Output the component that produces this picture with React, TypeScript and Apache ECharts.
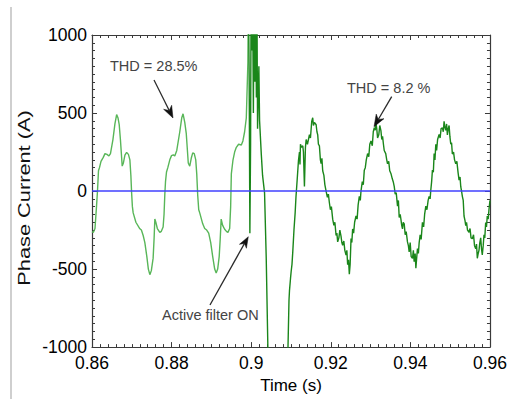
import React, { useEffect, useRef } from "react";
import * as echarts from "echarts";

// Phase current before the active filter is switched on (clean, distorted waveform)
const preFilterTime = [
  0.86, 0.86033, 0.86075, 0.86113, 0.86138, 0.86163, 0.86188, 0.86226, 0.86283, 0.86326,
  0.86376, 0.86426, 0.86464, 0.86526, 0.86576, 0.86619, 0.86652, 0.86684, 0.86714, 0.86759,
  0.86789, 0.86827, 0.8687, 0.86915, 0.86952, 0.86977, 0.86995, 0.87015, 0.87035, 0.87103,
  0.87203, 0.87241, 0.87286, 0.87328, 0.87378, 0.87416, 0.87454, 0.87491, 0.87536, 0.87561,
  0.87579, 0.87604, 0.87642, 0.87704, 0.87742, 0.87787, 0.8781, 0.8783, 0.87847, 0.87872,
  0.87905, 0.87955, 0.87998, 0.88043, 0.8808, 0.8813, 0.88206, 0.88256, 0.88288, 0.88331,
  0.88368, 0.88419, 0.88456, 0.88494, 0.88531, 0.88569, 0.88607, 0.88632, 0.88657, 0.88682,
  0.88707, 0.88782, 0.88832, 0.88882, 0.88932, 0.88983, 0.89033, 0.89083, 0.8912, 0.89158,
  0.89196, 0.89221, 0.89246, 0.89283, 0.89333, 0.89384, 0.89416, 0.89459, 0.89484, 0.89501,
  0.89541, 0.89584, 0.89627, 0.89684, 0.89752, 0.89792, 0.89835, 0.89877, 0.89917, 0.8993,
];
const preFilterCurrent = [
  -260, -265, -240, -100, 0, 130, 150, 190, 216, 240,
  235, 225, 240, 330, 430, 490, 470, 425, 330, 160,
  180, 230, 248, 235, 200, 100, -10, -100, -140, -200,
  -242, -250, -285, -330, -420, -500, -536, -510, -430, -300,
  -179, -200, -240, -265, -258, -230, -150, -20, 60, 122,
  150, 200, 227, 232, 225, 260, 380, 470, 495, 440,
  370, 180, 160, 210, 245, 240, 200, 110, -30, -120,
  -140, -210, -240, -250, -270, -330, -420, -500, -525, -500,
  -420, -310, -180, -220, -245, -260, -265, -240, -100, 110,
  196, 250, 280, 300, 295, 321, 380, 468, 823, 1300,
];

// Phase current after the active filter is switched on (transient + noisy sinusoid)
const postFilterTime = [
  0.8993, 0.8995, 0.89967, 0.89985, 0.89998, 0.90018, 0.90035, 0.90055, 0.90073, 0.90093,
  0.9011, 0.9013, 0.90143, 0.9016, 0.90193, 0.90211, 0.90253, 0.90286, 0.90336, 0.90378,
  0.90419, 0.90436, 0.90912, 0.90925, 0.9095, 0.90962, 0.90988, 0.91005, 0.91025, 0.91045,
  0.91075, 0.91105, 0.91125, 0.91155, 0.91188, 0.91213, 0.91226, 0.91238, 0.91263, 0.91296,
  0.91313, 0.91338, 0.91363, 0.91381, 0.91414, 0.91464, 0.91489, 0.91521, 0.91546, 0.91564,
  0.91589, 0.91632, 0.91652, 0.91672, 0.91689, 0.91714, 0.91739, 0.91757, 0.91777, 0.91797,
  0.91827, 0.91852, 0.91882, 0.91915, 0.9194, 0.91965, 0.9199, 0.92015, 0.92048, 0.92078,
  0.92103, 0.92133, 0.92153, 0.92173, 0.92203, 0.92228, 0.92258, 0.92278, 0.92298, 0.92328,
  0.92353, 0.92383, 0.92404, 0.92424, 0.92446, 0.92466, 0.92486, 0.92509, 0.92529, 0.92549,
  0.92574, 0.92599, 0.92634, 0.92662, 0.92687, 0.92717, 0.92742, 0.92759, 0.92792, 0.92817,
  0.92842, 0.92867, 0.92892, 0.92925, 0.92955, 0.9298, 0.9301, 0.93043, 0.93068, 0.93093,
  0.93118, 0.93135, 0.93155, 0.93176, 0.93206, 0.93231, 0.93261, 0.93281, 0.93301, 0.93323,
  0.93343, 0.93381, 0.93406, 0.93426, 0.93456, 0.93481, 0.93511, 0.93544, 0.93569, 0.93594,
  0.93619, 0.93644, 0.93677, 0.93699, 0.93719, 0.93744, 0.93762, 0.93782, 0.93802, 0.9382,
  0.93845, 0.9387, 0.93895, 0.93927, 0.9395, 0.9397, 0.93995, 0.9402, 0.94053, 0.94075,
  0.94095, 0.9412, 0.94138, 0.94158, 0.94178, 0.94201, 0.94221, 0.94246, 0.94271, 0.94303,
  0.94333, 0.94358, 0.94388, 0.94416, 0.94446, 0.94471, 0.94496, 0.94514, 0.94534, 0.94554,
  0.94577, 0.94597, 0.94617, 0.94639, 0.94659, 0.94684, 0.94722, 0.94747, 0.94772, 0.94805,
  0.94827, 0.94847, 0.94867, 0.9489, 0.9491, 0.9493, 0.94952, 0.94973, 0.94993, 0.95015,
  0.95035, 0.95055, 0.95085, 0.9511, 0.9514, 0.95168, 0.95198, 0.95223, 0.95248, 0.95266,
  0.95286, 0.95306, 0.95328, 0.95348, 0.95373, 0.95391, 0.95411, 0.95436, 0.95474, 0.95499,
  0.95524, 0.95557, 0.95587, 0.95612, 0.95642, 0.95662, 0.95682, 0.95704, 0.95724, 0.95745,
  0.95767, 0.95787, 0.95807, 0.9583, 0.9585, 0.9587, 0.95892, 0.95912, 0.95932, 0.95955,
  0.95975, 0.96,
];
const postFilterCurrent = [
  1300, 700, -270, 300, 1300, 900, 1300, 500, 1300, 700,
  1300, 600, 1300, 400, 800, 450, 240, 100, -12, -430,
  -1000, -1500, -1500, -1000, -700, -640, -560, -514, -470, -390,
  -250, -138, -40, 71, 196, 250, 170, 300, 280, 290,
  250, 30, 280, 330, 300, 362, 340, 446, 470, 420,
  440, 425, 380, 360, 300, 290, 200, 175, 210, 130,
  100, 40, 0, -40, -20, -75, -120, -100, -180, -220,
  -200, -285, -270, -326, -300, -250, -290, -330, -347, -320,
  -380, -410, -380, -472, -440, -533, -470, -305, -330, -243,
  -270, -200, -160, -180, -90, -34, -60, 0, 60, 40,
  134, 150, 200, 240, 220, 300, 321, 290, 380, 407,
  390, 436, 400, 340, 360, 420, 385, 330, 350, 300,
  260, 240, 200, 175, 190, 130, 113, 80, 60, 30,
  -20, -10, -97, -60, -170, -150, -180, -220, -243, -200,
  -210, -280, -260, -326, -350, -390, -330, -420, -431, -380,
  -452, -400, -494, -430, -368, -400, -330, -280, -310, -201,
  -230, -150, -97, -120, -60, -34, -50, 8, 60, 134,
  120, 240, 200, 300, 260, 330, 363, 340, 400, 405,
  380, 447, 410, 390, 430, 360, 400, 420, 350, 300,
  310, 237, 250, 200, 175, 190, 120, 70, 90, 28,
  0, -34, -60, -160, -190, -222, -200, -250, -264, -240,
  -300, -306, -280, -350, -369, -340, -431, -400, -380, -330,
  -300, -370, -410, -350, -280, -300, -201, -230, -160, -180,
  -118, -60,
];

// Zero reference line
const zeroLineTime = [0.86, 0.96];
const zeroLineCurrent = [0, 0];

// Annotation texts
const annotationTexts = ["THD = 28.5%", "THD = 8.2 %", "Active filter ON"];

const FONT = "'Liberation Sans', Arial, Helvetica, sans-serif";

function zip(xs: number[], ys: number[]) {
  return xs.map((x, i) => [x, ys[i]]);
}

function arrow(x1: number, y1: number, x2: number, y2: number, len = 12, half = 4.5) {
  const dx = x2 - x1;
  const dy = y2 - y1;
  const d = Math.sqrt(dx * dx + dy * dy);
  const ux = dx / d;
  const uy = dy / d;
  const nx = -uy;
  const ny = ux;
  const bx = x2 - ux * len;
  const by = y2 - uy * len;
  const notchX = x2 - ux * len * 0.7;
  const notchY = y2 - uy * len * 0.7;
  return [
    {
      type: "line",
      shape: { x1, y1, x2: notchX, y2: notchY },
      style: { stroke: "#2a2a2a", lineWidth: 1.3 },
      z: 20,
    },
    {
      type: "polygon",
      shape: {
        points: [
          [x2, y2],
          [bx + nx * half, by + ny * half],
          [notchX, notchY],
          [bx - nx * half, by - ny * half],
        ],
      },
      style: { fill: "#111", stroke: "#111", lineWidth: 0.5 },
      z: 20,
    },
  ];
}

export default function App() {
  const ref = useRef<HTMLDivElement>(null);

  useEffect(() => {
    if (!ref.current) return;
    const chart = echarts.init(ref.current, null, { renderer: "svg" });

    const axisLineStyle = { color: "#3a3a3a", width: 1.2 };
    const commonX = {
      type: "value",
      min: 0.86,
      max: 0.96,
      interval: 0.02,
      splitLine: { show: false },
      axisLine: { show: true, onZero: false, lineStyle: axisLineStyle },
      axisTick: { show: true, inside: true, length: 5, lineStyle: { color: "#3a3a3a" } },
      minorTick: { show: true, splitNumber: 10, length: 3, lineStyle: { color: "#3a3a3a" } },
    };
    const commonY = {
      type: "value",
      min: -1000,
      max: 1000,
      interval: 500,
      splitLine: { show: false },
      axisLine: { show: true, onZero: false, lineStyle: axisLineStyle },
      axisTick: { show: true, inside: true, length: 5, lineStyle: { color: "#3a3a3a" } },
      minorTick: { show: true, splitNumber: 10, length: 3, lineStyle: { color: "#3a3a3a" } },
    };

    const graphics: any[] = [
      // page frame line on the left
      {
        type: "line",
        shape: { x1: 11, y1: 7, x2: 11, y2: 399 },
        style: { stroke: "#cfcfcf", lineWidth: 2 },
      },
      // y-axis title (stretched like the source)
      {
        type: "text",
        x: 24,
        y: 198,
        rotation: Math.PI / 2,
        scaleX: 1.32,
        scaleY: 1,
        style: {
          text: "Phase Current (A)",
          font: `16.5px ${FONT}`,
          fill: "#111",
          align: "center",
          verticalAlign: "middle",
        },
      },
      {
        type: "text",
        x: 110,
        y: 66,
        style: {
          text: annotationTexts[0],
          font: `14.5px ${FONT}`,
          fill: "#444",
          align: "left",
          verticalAlign: "middle",
        },
        z: 20,
      },
      {
        type: "text",
        x: 347,
        y: 87.5,
        style: {
          text: annotationTexts[1],
          font: `14.5px ${FONT}`,
          fill: "#444",
          align: "left",
          verticalAlign: "middle",
        },
        z: 20,
      },
      {
        type: "text",
        x: 162,
        y: 315,
        style: {
          text: annotationTexts[2],
          font: `14.5px ${FONT}`,
          fill: "#444",
          align: "left",
          verticalAlign: "middle",
        },
        z: 20,
      },
      ...arrow(154, 80, 173, 118),
      ...arrow(391.7, 96.7, 374, 126.7),
      ...arrow(210, 305, 248.3, 236.7, 11, 4),
    ];

    chart.setOption({
      animation: false,
      backgroundColor: "#ffffff",
      textStyle: { fontFamily: FONT },
      grid: { left: 92, right: 19, top: 35, bottom: 45, containLabel: false },
      xAxis: [
        {
          ...commonX,
          position: "bottom",
          name: "Time (s)",
          nameLocation: "middle",
          nameGap: 27,
          nameTextStyle: { fontSize: 17, color: "#000", fontFamily: FONT },
          axisLabel: {
            show: true,
            fontSize: 17.5,
            color: "#000",
            margin: 7,
            fontFamily: FONT,
            formatter: (v: number) => String(Math.round(v * 1000) / 1000),
          },
        },
        {
          ...commonX,
          position: "top",
          axisLabel: { show: false },
        },
      ],
      yAxis: [
        {
          ...commonY,
          position: "left",
          axisLabel: {
            show: true,
            fontSize: 17.5,
            color: "#000",
            margin: 5,
            fontFamily: FONT,
            formatter: (v: number) => String(v),
          },
        },
        {
          ...commonY,
          position: "right",
          axisLabel: { show: false },
        },
      ],
      series: [
        {
          name: "Before filter",
          type: "line",
          xAxisIndex: 0,
          yAxisIndex: 0,
          data: zip(preFilterTime, preFilterCurrent),
          showSymbol: false,
          symbol: "none",
          clip: true,
          lineStyle: { color: "#58b658", width: 1.4 },
          z: 3,
        },
        {
          name: "After filter",
          type: "line",
          xAxisIndex: 0,
          yAxisIndex: 0,
          data: zip(postFilterTime, postFilterCurrent),
          showSymbol: false,
          symbol: "none",
          clip: true,
          lineStyle: { color: "#1a861a", width: 1.4 },
          z: 3,
        },
        {
          name: "Zero",
          type: "line",
          xAxisIndex: 0,
          yAxisIndex: 0,
          data: zip(zeroLineTime, zeroLineCurrent),
          showSymbol: false,
          symbol: "none",
          lineStyle: { color: "#4040ff", width: 1.5 },
          z: 4,
        },
      ],
      graphic: graphics,
    });

    return () => chart.dispose();
  }, []);

  return (
    <div
      ref={ref}
      style={{ position: "absolute", left: 0, top: 0, width: 510, height: 399, background: "#fff" }}
    />
  );
}
